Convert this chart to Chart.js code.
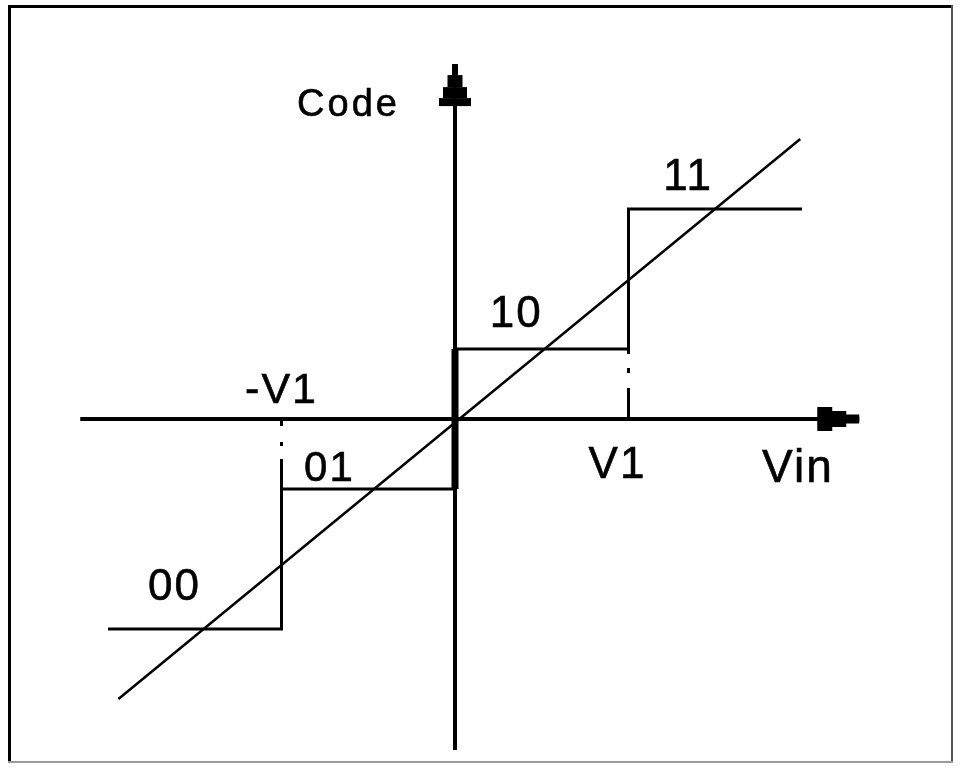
<!DOCTYPE html>
<html>
<head>
<meta charset="utf-8">
<script src="https://cdn.jsdelivr.net/npm/chart.js@4.4.0/dist/chart.umd.min.js"></script>
<style>
  html, body { margin: 0; padding: 0; background: #fff; }
  #wrap { position: relative; width: 962px; height: 769px; }
</style>
</head>
<body>
<div id="wrap"><canvas id="chart" width="962" height="769"></canvas></div>
<script>
// quantizer transfer curve, x in units of V1, y in half code steps
const stepX = [-2, -1, -1, 0, 0, 1, 1, 2];
const stepY = [-3, -3, -1, -1, 1, 1, 3, 3];
const rampX = [-1.94, 1.99];
const rampY = [-4.0, 4.0];
const vinAxisX = [-2.16, 2.33];
const codeAxisY = [-4.73, 5.07];
const markerX = [-1, 1];
const markerY = [-1, 1];

const labelText = ['Code', '11', '10', '-V1', '01', '00', 'V1', 'Vin'];
const labelX = [-0.91, 1.2, 0.2, -1.21, -0.87, -1.77, 0.77, 1.77];
const labelY = [4.33, 3.27, 1.31, 0.23, -0.88, -2.59, -0.84, -0.9];
const labelSize = [38, 44, 44, 43, 42, 44, 44, 46];

const pts = (xs, ys) => xs.map((x, i) => ({ x, y: ys[i] }));

const lineBase = {
  showLine: true,
  pointRadius: 0,
  borderColor: '#000',
  fill: false,
  tension: 0,
};

const arrowHeads = {
  id: 'arrowHeads',
  afterDatasetsDraw(chart) {
    const { ctx, scales } = chart;
    ctx.save();
    ctx.fillStyle = '#000';
    // right arrow (Vin)
    const rx = scales.x.getPixelForValue(vinAxisX[1]);
    const ry = scales.y.getPixelForValue(0);
    ctx.fillRect(rx - 42, ry - 12, 15, 24);
    ctx.fillRect(rx - 28, ry - 8, 15, 16);
    ctx.fillRect(rx - 14, ry - 4.5, 14, 9);
    // up arrow (Code)
    const ux = scales.x.getPixelForValue(0);
    const uy = scales.y.getPixelForValue(codeAxisY[1]);
    ctx.fillRect(ux - 3, uy, 6, 11);
    ctx.fillRect(ux - 7.5, uy + 11, 15, 12);
    ctx.fillRect(ux - 12, uy + 23, 24, 11);
    ctx.fillRect(ux - 16, uy + 34, 32, 8);
    ctx.restore();
  }
};

const textLabels = {
  id: 'textLabels',
  afterDatasetsDraw(chart) {
    const { ctx, scales } = chart;
    ctx.save();
    ctx.fillStyle = '#000';
    ctx.strokeStyle = '#000';
    ctx.lineWidth = 0.6;
    ctx.textAlign = 'left';
    ctx.textBaseline = 'alphabetic';
    labelText.forEach((t, i) => {
      ctx.font = labelSize[i] + 'px "Liberation Sans", Arial, sans-serif';
      ctx.letterSpacing = (i === 0 ? 3 : 2) + 'px';
      const px = scales.x.getPixelForValue(labelX[i]);
      const py = scales.y.getPixelForValue(labelY[i]);
      ctx.fillText(t, px, py);
      ctx.strokeText(t, px, py);
    });
    ctx.restore();
  }
};

const frame = {
  id: 'frame',
  beforeDraw(chart) {
    const { ctx, width, height } = chart;
    ctx.save();
    ctx.fillStyle = '#fff';
    ctx.fillRect(0, 0, width, height);
    ctx.fillStyle = '#000';
    ctx.fillRect(10, 5, 943, 3);
    ctx.fillRect(8, 5, 3, 757);
    ctx.fillStyle = '#555';
    ctx.fillRect(951, 5, 2, 757);
    ctx.fillStyle = '#9a9a9a';
    ctx.fillRect(8, 761, 945, 2);
    ctx.restore();
  }
};

new Chart(document.getElementById('chart'), {
  type: 'scatter',
  data: {
    datasets: [
      { ...lineBase, label: 'Vin axis', data: pts(vinAxisX, [0, 0]), borderWidth: 4 },
      { ...lineBase, label: 'Code axis', data: pts([0, 0], codeAxisY), borderWidth: 4 },
      {
        ...lineBase, label: 'Code', data: pts(stepX, stepY), borderWidth: 3,
        segment: { borderWidth: (c) => (c.p0.parsed.x === 0 && c.p1.parsed.x === 0 ? 7 : 3) },
      },
      { ...lineBase, label: 'Vin', data: pts(rampX, rampY), borderWidth: 2.5 },
      { ...lineBase, label: '-V1', data: pts([markerX[0], markerX[0]], [markerY[0], 0]), borderWidth: 3, borderDash: [30, 13, 4, 16, 5, 200] },
      { ...lineBase, label: 'V1', data: pts([markerX[1], markerX[1]], [0, markerY[1]]), borderWidth: 3, borderDash: [31, 15, 5, 14, 7, 200] },
    ],
  },
  options: {
    responsive: false,
    animation: false,
    events: [],
    layout: { padding: 0 },
    plugins: { legend: { display: false }, tooltip: { enabled: false } },
    scales: {
      x: { type: 'linear', min: -455 / 173.5, max: 507 / 173.5, display: false },
      y: { type: 'linear', min: -5.0, max: 419 / 70, display: false },
    },
  },
  plugins: [frame, arrowHeads, textLabels],
});
</script>
</body>
</html>
